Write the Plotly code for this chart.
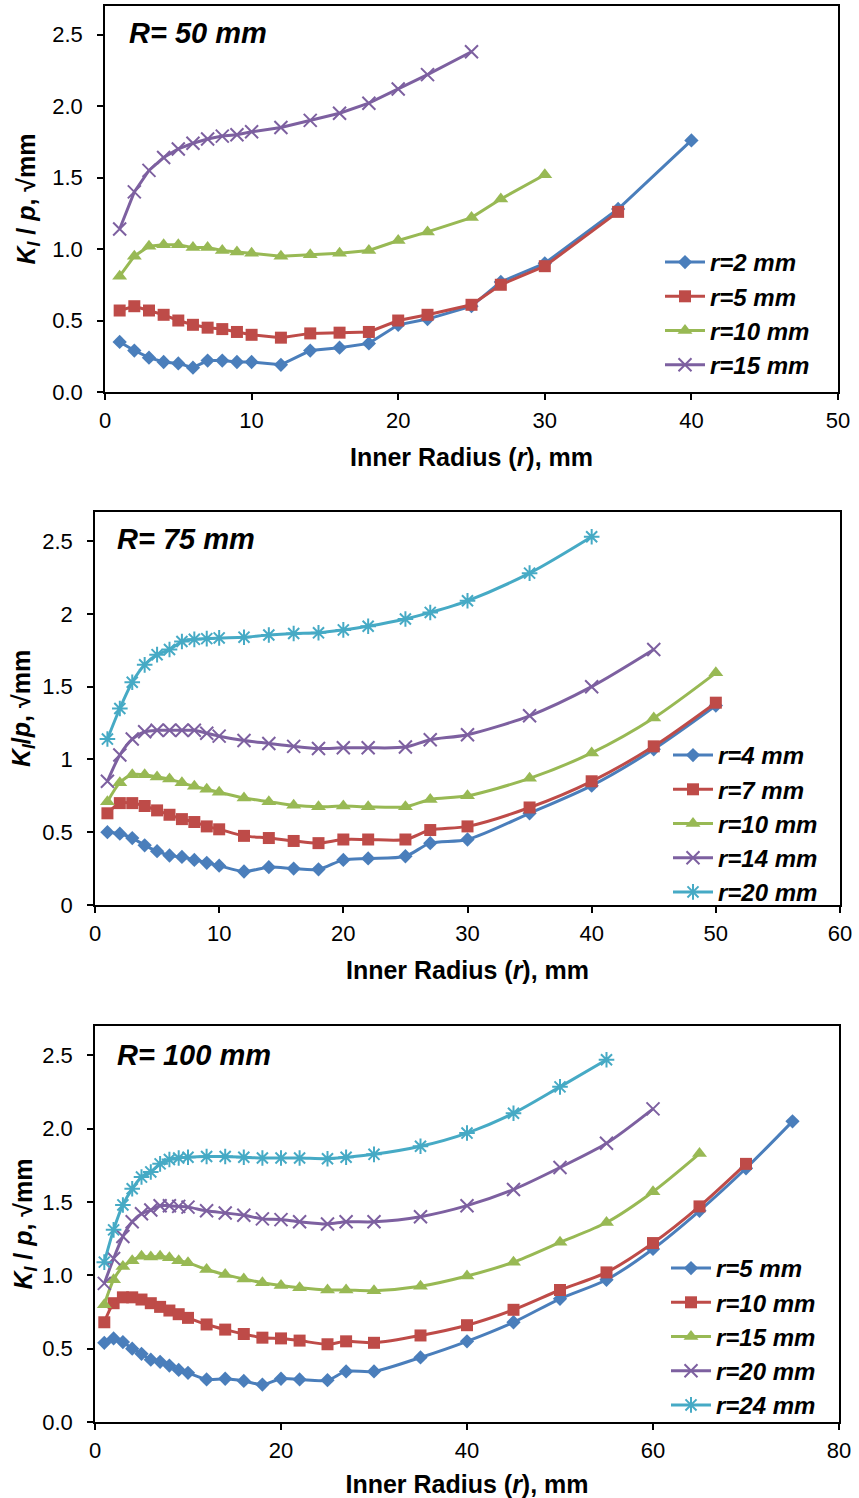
import plotly.graph_objects as go

# ---------------- data ----------------
# Panel 1: R = 50 mm
x_R50 = [1, 2, 3, 4, 5, 6, 7, 8, 9, 10, 12, 14, 16, 18, 20, 22, 25, 27, 30, 35, 40]
R50_r2 = [0.35, 0.29, 0.24, 0.21, 0.20, 0.17, 0.22, 0.22, 0.21, 0.21, 0.19, 0.29, 0.31, 0.34, 0.47,
          0.51, 0.60, 0.77, 0.90, 1.28, 1.76]
R50_r5 = [0.57, 0.60, 0.57, 0.54, 0.50, 0.47, 0.45, 0.44, 0.42, 0.40, 0.38, 0.41, 0.415, 0.42, 0.50,
          0.54, 0.61, 0.75, 0.88, 1.26]
R50_r10 = [0.81, 0.95, 1.02, 1.03, 1.03, 1.01, 1.01, 0.99, 0.98, 0.97, 0.95, 0.96, 0.97, 0.99, 1.06,
           1.12, 1.22, 1.35, 1.52]
R50_r15 = [1.14, 1.40, 1.55, 1.64, 1.70, 1.74, 1.77, 1.79, 1.80, 1.82, 1.85, 1.90, 1.95, 2.02, 2.12,
           2.22, 2.38]
R50_names = ["r=2 mm", "r=5 mm", "r=10 mm", "r=15 mm"]

# Panel 2: R = 75 mm
x_R75 = [1, 2, 3, 4, 5, 6, 7, 8, 9, 10, 12, 14, 16, 18, 20, 22, 25, 27, 30, 35, 40, 45, 50]
R75_r4 = [0.50, 0.49, 0.46, 0.41, 0.37, 0.34, 0.33, 0.31, 0.29, 0.27, 0.23, 0.26, 0.25, 0.245, 0.31,
          0.32, 0.335, 0.425, 0.45, 0.63, 0.82, 1.07, 1.37]
R75_r7 = [0.63, 0.70, 0.70, 0.68, 0.65, 0.62, 0.59, 0.57, 0.54, 0.52, 0.475, 0.46, 0.44, 0.425, 0.45,
          0.45, 0.45, 0.515, 0.54, 0.67, 0.85, 1.09, 1.39]
R75_r10 = [0.71, 0.84, 0.895, 0.895, 0.88, 0.865, 0.84, 0.815, 0.795, 0.775, 0.735, 0.71, 0.685, 0.675,
           0.68, 0.675, 0.675, 0.725, 0.75, 0.87, 1.045, 1.285, 1.595]
R75_r14 = [0.85, 1.03, 1.14, 1.19, 1.20, 1.20, 1.20, 1.20, 1.18, 1.16, 1.13, 1.11, 1.09, 1.075, 1.08,
           1.08, 1.085, 1.135, 1.17, 1.30, 1.50, 1.755]
R75_r20 = [1.14, 1.35, 1.53, 1.65, 1.72, 1.755, 1.81, 1.825, 1.83, 1.835, 1.84, 1.855, 1.865, 1.87, 1.89,
           1.915, 1.965, 2.01, 2.09, 2.28, 2.53]
R75_names = ["r=4 mm", "r=7 mm", "r=10 mm", "r=14 mm", "r=20 mm"]

# Panel 3: R = 100 mm
x_R100 = [1, 2, 3, 4, 5, 6, 7, 8, 9, 10, 12, 14, 16, 18, 20, 22, 25, 27, 30, 35, 40, 45, 50, 55, 60,
          65, 70, 75]
R100_r5 = [0.54, 0.57, 0.545, 0.50, 0.465, 0.425, 0.41, 0.385, 0.355, 0.335, 0.29, 0.295, 0.28, 0.255,
           0.295, 0.29, 0.285, 0.345, 0.345, 0.44, 0.55, 0.68, 0.84, 0.97, 1.18, 1.44, 1.73, 2.05]
R100_r10 = [0.68, 0.81, 0.85, 0.85, 0.835, 0.81, 0.785, 0.76, 0.735, 0.71, 0.665, 0.63, 0.60, 0.575,
            0.57, 0.555, 0.53, 0.55, 0.54, 0.59, 0.66, 0.765, 0.90, 1.02, 1.22, 1.47, 1.76]
R100_r15 = [0.80, 0.97, 1.06, 1.10, 1.13, 1.125, 1.13, 1.12, 1.10, 1.085, 1.04, 1.005, 0.975, 0.95,
            0.93, 0.915, 0.90, 0.90, 0.895, 0.925, 0.995, 1.09, 1.225, 1.36, 1.57, 1.83]
R100_r20 = [0.945, 1.115, 1.265, 1.365, 1.42, 1.445, 1.475, 1.475, 1.47, 1.465, 1.44, 1.425, 1.41, 1.385,
            1.38, 1.365, 1.35, 1.365, 1.365, 1.40, 1.475, 1.585, 1.735, 1.90, 2.135]
R100_r24 = [1.09, 1.31, 1.48, 1.59, 1.67, 1.705, 1.76, 1.79, 1.80, 1.805, 1.81, 1.81, 1.805, 1.80, 1.80,
            1.80, 1.795, 1.805, 1.825, 1.88, 1.97, 2.105, 2.285, 2.47]
R100_names = ["r=5 mm", "r=10 mm", "r=15 mm", "r=20 mm", "r=24 mm"]

panel_titles = ["R= 50 mm", "R= 75 mm", "R= 100 mm"]

# ---------------- styles ----------------
COLORS = ["#4A7EBB", "#BE4B48", "#98B954", "#7D60A0", "#46AAC5"]
SYMBOLS = ["diamond", "square", "triangle-up", "x-thin", "asterisk"]
SIZES = [11, 12, 13, 13, 13]
FONT = "Arial, 'Liberation Sans', sans-serif"

W, H = 859, 1498

fig = go.Figure()

panels = [
    (x_R50, [R50_r2, R50_r5, R50_r10, R50_r15], R50_names, "linear"),
    (x_R75, [R75_r4, R75_r7, R75_r10, R75_r14, R75_r20], R75_names, "spline"),
    (x_R100, [R100_r5, R100_r10, R100_r15, R100_r20, R100_r24], R100_names, "spline"),
]

for p, (xs, series, names, shape) in enumerate(panels):
    sfx = "" if p == 0 else str(p + 1)
    for i, (ys, nm) in enumerate(zip(series, names)):
        sym = SYMBOLS[i]
        open_sym = sym in ("x-thin", "asterisk")
        marker = dict(symbol=sym, size=SIZES[i], color=COLORS[i])
        if open_sym:
            marker["line"] = dict(color=COLORS[i], width=2)
        fig.add_trace(go.Scatter(
            x=xs[:len(ys)], y=ys, name=nm, mode="lines+markers",
            line=dict(color=COLORS[i], width=3, shape=shape, smoothing=0.8),
            marker=marker,
            xaxis="x" + sfx, yaxis="y" + sfx,
            legend="legend" + sfx,
        ))

def px_x(v):
    return v / W

def px_y(v):
    return 1 - v / H

# plot area pixel boxes: (left, right, top, bottom)
boxes = [(105, 838, 6, 392), (95, 840, 512, 905), (95, 839, 1026, 1422)]
xmax = [50, 60, 80]
xdt = [10, 10, 20]
yfmt = [".1f", "", ".1f"]
ystandoff = [10, 5, 3]
ytitles = [
    "<b><i>K<sub>I</sub></i> / <i>p</i>, √mm</b>",
    "<b><i>K<sub>I</sub></i>/<i>p</i>, √mm</b>",
    "<b><i>K<sub>I</sub></i> / <i>p</i>, √mm</b>",
]

axis_common = dict(
    showline=True, linecolor="black", linewidth=1.5, mirror=True,
    ticks="outside", ticklen=6, tickwidth=1.5, tickcolor="black",
    showgrid=False, zeroline=False, automargin=False,
    tickfont=dict(family=FONT, size=22, color="black"),
)

layout = dict(
    width=W, height=H, margin=dict(l=0, r=0, t=0, b=0, autoexpand=False),
    paper_bgcolor="white", plot_bgcolor="white",
    font=dict(family=FONT, color="black"),
    showlegend=True,
)

for p in range(3):
    sfx = "" if p == 0 else str(p + 1)
    l, r, t, b = boxes[p]
    layout["xaxis" + sfx] = dict(
        axis_common, domain=[px_x(l), px_x(r)], range=[0, xmax[p]], dtick=xdt[p], tick0=0,
        anchor="y" + sfx, ticklabelstandoff=2,
        title=dict(text="<b>Inner Radius (<i>r</i>), mm</b>",
                   font=dict(family=FONT, size=25, color="black"), standoff=16),
    )
    layout["yaxis" + sfx] = dict(
        axis_common, domain=[px_y(b), px_y(t)], range=[0, 2.7], dtick=0.5, tick0=0,
        tickformat=yfmt[p], anchor="x" + sfx, ticklabelstandoff=10,
        title=dict(text=ytitles[p], font=dict(family=FONT, size=25, color="black"),
                   standoff=ystandoff[p]),
    )

legend_pos = [(660, 240), (668, 733), (666, 1246)]
for p in range(3):
    sfx = "" if p == 0 else str(p + 1)
    lx, ly = legend_pos[p]
    layout["legend" + sfx] = dict(
        x=px_x(lx), y=px_y(ly), xanchor="left", yanchor="top",
        bgcolor="rgba(0,0,0,0)", borderwidth=0, tracegroupgap=0,
        font=dict(family=FONT, size=24, color="black", weight="bold", style="italic"),
        itemwidth=40,
    )

fig.update_layout(**layout)

title_pos = [(127, 33), (115, 539), (115, 1055)]
for p in range(3):
    tx, ty = title_pos[p]
    fig.add_annotation(
        x=px_x(tx), y=px_y(ty), xref="paper", yref="paper", xanchor="left", yanchor="middle",
        text="<b><i>" + panel_titles[p] + "</i></b>", showarrow=False,
        font=dict(family=FONT, size=29, color="black"),
    )

fig.write_html("out.html", config={"displayModeBar": False},
               post_script="document.body.style.margin='0';document.body.style.overflow='hidden';")
